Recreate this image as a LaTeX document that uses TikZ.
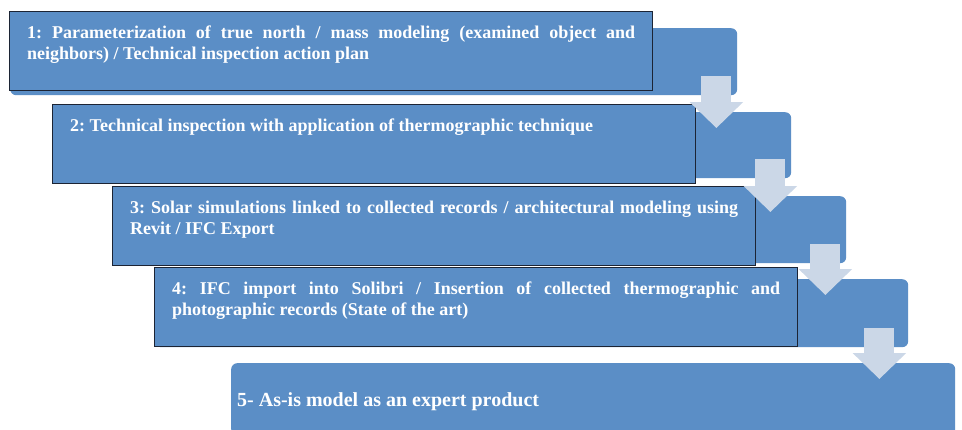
\documentclass[tikz,border=0pt]{standalone}
\usepackage{fontspec}
\setmainfont{Liberation Serif}
\usetikzlibrary{arrows.meta,calc}
\frenchspacing

\definecolor{stepblue}{RGB}{91,142,198}
\definecolor{stepedge}{RGB}{28,36,52}
\definecolor{flowgray}{RGB}{203,215,231}

\tikzset{
	band/.style={rectangle,rounded corners=6pt,fill=stepblue,anchor=north west,inner sep=0pt},
	textbox/.style={rectangle,fill=stepblue,draw=stepedge,line width=0.9pt,anchor=north west,
		inner sep=0pt,minimum width=643pt,minimum height=79pt},
	steptext/.style={anchor=base west,inner sep=0pt,text=white,text width=608pt,align=justify,
		font=\fontsize{18}{21}\selectfont\bfseries},
	flow/.style={draw=flowgray,line width=30pt,-{Triangle[width=52pt,length=26pt]}}
}

\begin{document}
\begin{tikzpicture}[x=1pt,y=-1pt]

\clip (0,0) rectangle (962,429);
\fill[white] (0,0) rectangle (962,429);

% step 1
\node[band,minimum width=727pt,minimum height=67pt] (r1) at (10,28) {};
\node[textbox] (t1) at (9,11) {};
\node[steptext] (s1) at ([shift={(18,27)}]t1.north west)
	{1: Parameterization of true north / mass modeling (examined object and\linebreak
	neighbors) / Technical inspection action plan};

% step 2
\node[band,minimum width=738pt,minimum height=66pt] (r2) at (53,112) {};
\node[textbox] (t2) at (52,104) {};
\node[steptext] (s2) at ([shift={(18,27)}]t2.north west)
	{2: Technical inspection with application of thermographic technique};

% step 3
\node[band,minimum width=734pt,minimum height=67pt] (r3) at (112,196) {};
\node[textbox] (t3) at (112,186) {};
\node[steptext] (s3) at ([shift={(18,27)}]t3.north west)
	{3: Solar simulations linked to collected records / architectural modeling using\linebreak
	Revit / IFC Export};

% step 4
\node[band,minimum width=753pt,minimum height=68pt] (r4) at (155,279) {};
\node[textbox] (t4) at (154,267) {};
\node[steptext] (s4) at ([shift={(18,27)}]t4.north west)
	{4: IFC import into Solibri / Insertion of collected thermographic and\linebreak
	photographic records (State of the art)};

% step 5
\node[band,minimum width=724pt,minimum height=72pt] (r5) at (231,363) {};
\node[anchor=base west,inner sep=0pt,text=white,font=\fontsize{20}{24}\selectfont\bfseries]
	(s5) at (237,406) {5- As-is model as an expert product};

% arrows from one band down into the next
\foreach \i/\j/\dx in {1/2/21,2/3/21,3/4/21,4/5/29}{
	\coordinate (a\i) at ([shift={(-\dx,-19)}]r\i.south east);
	\coordinate (b\i) at ($(a\i |- r\j.north)+(0,16)$);
	\draw[flow] (a\i) -- (b\i);
}

\end{tikzpicture}
\end{document}
